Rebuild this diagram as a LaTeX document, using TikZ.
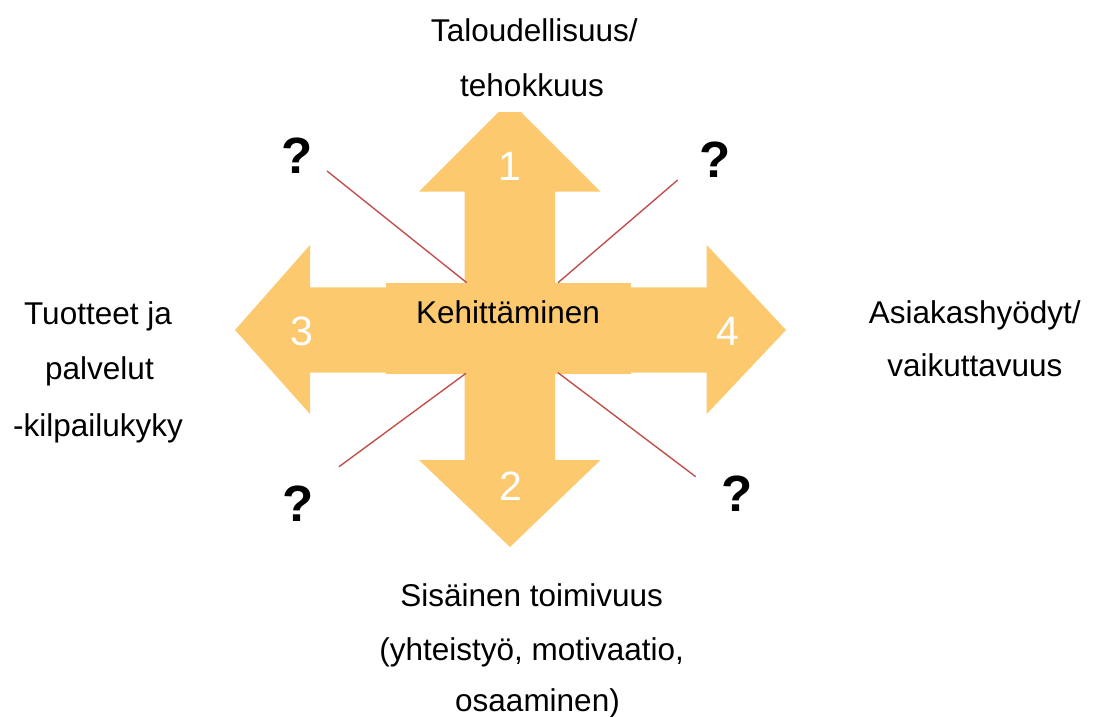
\documentclass[tikz,border=0pt]{standalone}
\usepackage{fontspec}
\setmainfont{Liberation Sans}
\definecolor{arrowfill}{HTML}{FCC96E}
\definecolor{linered}{HTML}{C0504D}
\begin{document}
\begin{tikzpicture}[x=1pt,y=-1pt,
  lbl/.style={inner sep=0pt, anchor=base, font=\fontsize{31.5}{38}\selectfont},
  qmark/.style={inner sep=0pt, anchor=base, font=\fontsize{51}{60}\selectfont\bfseries},
  num/.style={inner sep=0pt, anchor=base, text=white, font=\fontsize{41}{48}\selectfont},
  arrowshape/.style={fill=arrowfill, draw=none},
  ray/.style={draw=linered, line width=1.4pt}]
\useasboundingbox (0,0) rectangle (1101,717);
% arrows
\fill[arrowshape] (464.5,330) -- (464.5,191.7) -- (419,191.7) -- (498.5,112) -- (521,112) -- (600.5,191.7) -- (555,191.7) -- (555,330) -- cycle;
\fill[arrowshape] (464.5,330) -- (464.5,460) -- (419,460) -- (510,547) -- (600.5,460) -- (555,460) -- (555,330) -- cycle;
\fill[arrowshape] (510,287.3) -- (310,287.3) -- (310,245) -- (235,330) -- (310,414) -- (310,372.7) -- (510,372.7) -- cycle;
\fill[arrowshape] (510,287.3) -- (706.7,287.3) -- (706.7,245) -- (786,330) -- (706.7,414) -- (706.7,372.7) -- (510,372.7) -- cycle;
\node[arrowshape, inner sep=0pt, minimum width=244.7pt, minimum height=91pt] (core) at (508.35,328.5) {};
\node[lbl] (kehi) at (508,323.3) {Kehittäminen};
% numbers
\node[num] (n1) at (510,180) {1};
\node[num] (n2) at (511,500) {2};
\node[num] (n3) at (302.2,345) {3};
\node[num] (n4) at (728,345) {4};
% corner coordinates and rays
\coordinate (tlin) at (466.7,282.7);
\coordinate (trin) at (558,282.7);
\coordinate (blin) at (466,373.3);
\coordinate (brin) at (558,372.7);
\coordinate (tlout) at (327,171);
\coordinate (trout) at (677.7,180);
\coordinate (blout) at (339,466.7);
\coordinate (brout) at (695.7,476.7);
\draw[ray] (tlin) -- (tlout);
\draw[ray] (trin) -- (trout);
\draw[ray] (blin) -- (blout);
\draw[ray] (brin) -- (brout);
% question marks
\node[qmark] (q1) at (297.3,173.3) {?};
\node[qmark] (q2) at (715.3,177.3) {?};
\node[qmark] (q3) at (298,521.7) {?};
\node[qmark] (q4) at (737.3,511.7) {?};
% labels
\node[lbl] (top1) at (534.3,41.7) {Taloudellisuus/};
\node[lbl] (top2) at (532,96.7) {tehokkuus};
\node[lbl] (left1) at (98,324.3) {Tuotteet ja};
\node[lbl] (left2) at (99.5,379.3) {palvelut};
\node[lbl] (left3) at (98,436) {-kilpailukyky};
\node[lbl] (right1) at (974.7,323.3) {Asiakashyödyt/};
\node[lbl] (right2) at (974.8,376.7) {vaikuttavuus};
\node[lbl] (bot1) at (531.7,606.7) {Sisäinen toimivuus};
\node[lbl] (bot2) at (531.7,660) {(yhteistyö, motivaatio,};
\node[lbl] (bot3) at (537.5,711.7) {osaaminen)};
\end{tikzpicture}
\end{document}
